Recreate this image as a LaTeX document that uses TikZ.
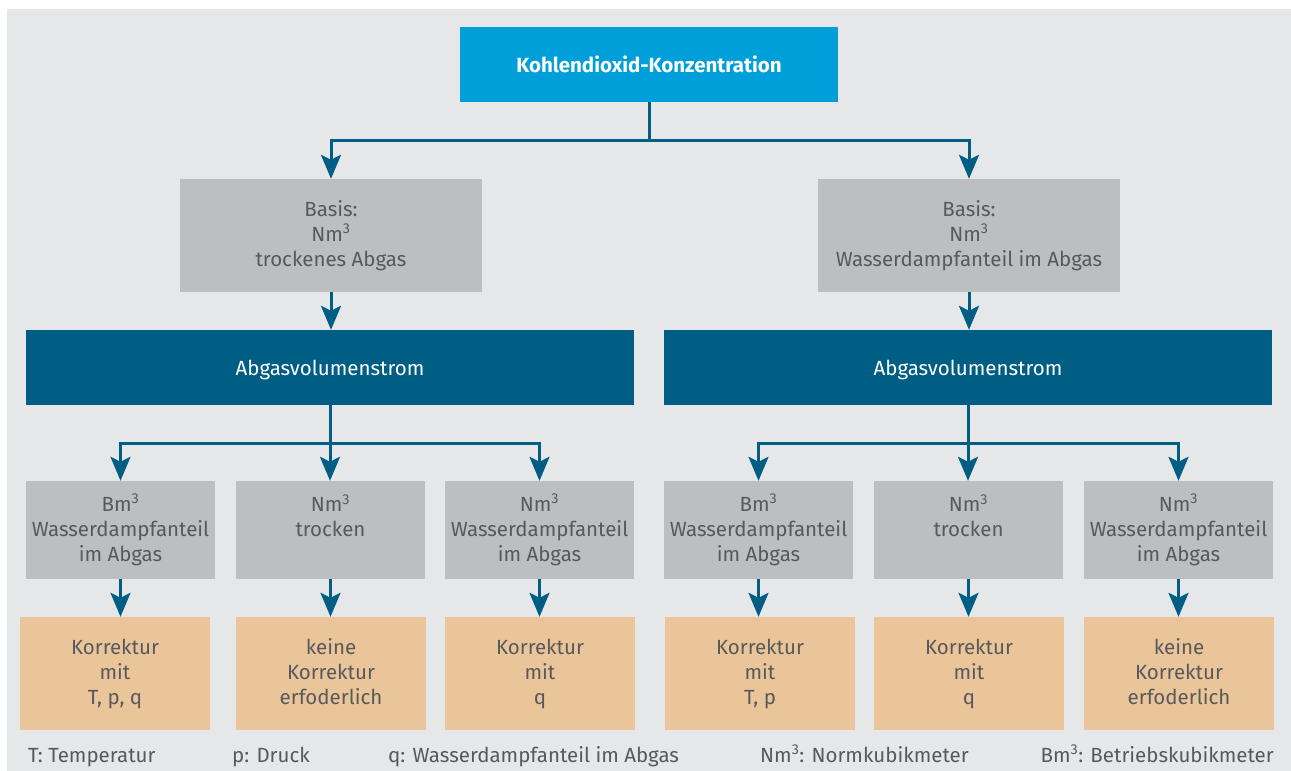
\documentclass[tikz,border=0pt]{standalone}
\usepackage{fontspec}
\setmainfont{Fira Sans}
\usetikzlibrary{arrows.meta}
\definecolor{bggray}{HTML}{E6E7E9}
\definecolor{topblue}{HTML}{009FDA}
\definecolor{darkblue}{HTML}{005E85}
\definecolor{boxgray}{HTML}{BDBEC0}
\definecolor{boxorange}{HTML}{EBC59A}
\definecolor{textgray}{HTML}{58595B}
\newcommand\boxstrut{\rule[-4pt]{0pt}{24pt}}
\tikzset{>={Stealth[width=20pt,length=24pt,inset=5pt]}}
\tikzset{
  box/.style={inner sep=0pt, align=center, text=textgray, font=\fontsize{20.5}{25}\selectfont,
    execute at begin node=\boxstrut, execute at end node=\boxstrut},
  topbox/.style={box, fill=topblue, text=white, font=\fontsize{20.5}{25}\selectfont\bfseries, minimum width=378pt, minimum height=75pt},
  basisbox/.style={box, fill=boxgray, minimum width=302pt, minimum height=113pt},
  streambox/.style={box, fill=darkblue, text=white, minimum width=608pt, minimum height=75pt},
  unitbox/.style={box, fill=boxgray, minimum width=189pt, minimum height=98pt},
  fixbox/.style={box, fill=boxorange, minimum width=190pt, minimum height=113pt},
  legend/.style={inner sep=0pt, text=textgray, font=\fontsize{20.5}{25}\selectfont},
  conn/.style={->, draw=darkblue, line width=3pt}
}

\begin{document}
\begin{tikzpicture}[x=1pt, y=-1pt]

  \useasboundingbox (0,0) rectangle (1291,771);
  \fill[bggray] (7,9) rectangle (1291,771);

  \newcommand\Nm{Nm\textsuperscript{3}}
  \newcommand\Bm{Bm\textsuperscript{3}}

  \node[topbox] (co2) at (649,64.5) {Kohlendioxid-Konzentration};

  \node[basisbox] (basisL) at (331,235.5) {Basis:\\\Nm\\trockenes Abgas};
  \node[basisbox] (basisR) at (969,235.5) {Basis:\\\Nm\\Wasserdampfanteil im Abgas};

  \node[streambox] (streamL) at (330,367.5) {Abgasvolumenstrom};
  \node[streambox] (streamR) at (968,367.5) {Abgasvolumenstrom};

  % left branch
  \node[unitbox] (unitL1) at (120.5,530) {\Bm\\Wasserdampfanteil\\im Abgas};
  \node[unitbox] (unitL2) at (330.5,530) {\Nm\\trocken\\\mbox{}};
  \node[unitbox] (unitL3) at (539.5,530) {\Nm\\Wasserdampfanteil\\im Abgas};
  \node[fixbox] (fixL1) at (115,673.5) {Korrektur\\mit\\T, p, q};
  \node[fixbox] (fixL2) at (331,673.5) {keine\\Korrektur\\erfoderlich};
  \node[fixbox] (fixL3) at (540,673.5) {Korrektur\\mit\\q};

  % right branch
  \node[unitbox] (unitR1) at (758.5,530) {\Bm\\Wasserdampfanteil\\im Abgas};
  \node[unitbox] (unitR2) at (968.5,530) {\Nm\\trocken\\\mbox{}};
  \node[unitbox] (unitR3) at (1178.5,530) {\Nm\\Wasserdampfanteil\\im Abgas};
  \node[fixbox] (fixR1) at (760,673.5) {Korrektur\\mit\\T, p};
  \node[fixbox] (fixR2) at (969,673.5) {Korrektur\\mit\\q};
  \node[fixbox] (fixR3) at (1179,673.5) {keine\\Korrektur\\erfoderlich};

  % legend
  \node[legend, anchor=base west] (legT) at (28,762) {T: Temperatur};
  \node[legend, anchor=base west] (legp) at (232,762) {p: Druck};
  \node[legend, anchor=base west] (legq) at (388,762) {q: Wasserdampfanteil im Abgas};
  \node[legend, anchor=base west] (legNm) at (760,762) {\Nm: Normkubikmeter};
  \node[legend, anchor=base east] (legBm) at (1274,762) {\Bm: Betriebskubikmeter};

  \coordinate (split) at (649,140);
  \coordinate (splitL) at (330,443);
  \coordinate (splitR) at (968,443);

  \draw[conn] (co2.south) -- (split) -| (basisL.north); %% co2->basisL
  \draw[conn] (split) -| (basisR.north); %% co2->basisR

  \draw[conn] (basisL.south) -- (basisL.south |- streamL.north);
  \draw[conn] (basisR.south) -- (basisR.south |- streamR.north);

  \draw[conn] (streamL.south) -- (splitL) -| (unitL1.north);
  \draw[conn] (splitL) -| (unitL3.north);
  \draw[conn] (splitL) -- (splitL |- unitL2.north);
  \draw[conn] (streamR.south) -- (splitR) -| (unitR1.north);
  \draw[conn] (splitR) -| (unitR3.north);
  \draw[conn] (splitR) -- (splitR |- unitR2.north);

  \foreach \i in {L1,L2,L3,R1,R2,R3}
    \draw[conn] (unit\i.south) -- (unit\i.south |- fix\i.north);

\end{tikzpicture}
\end{document}
